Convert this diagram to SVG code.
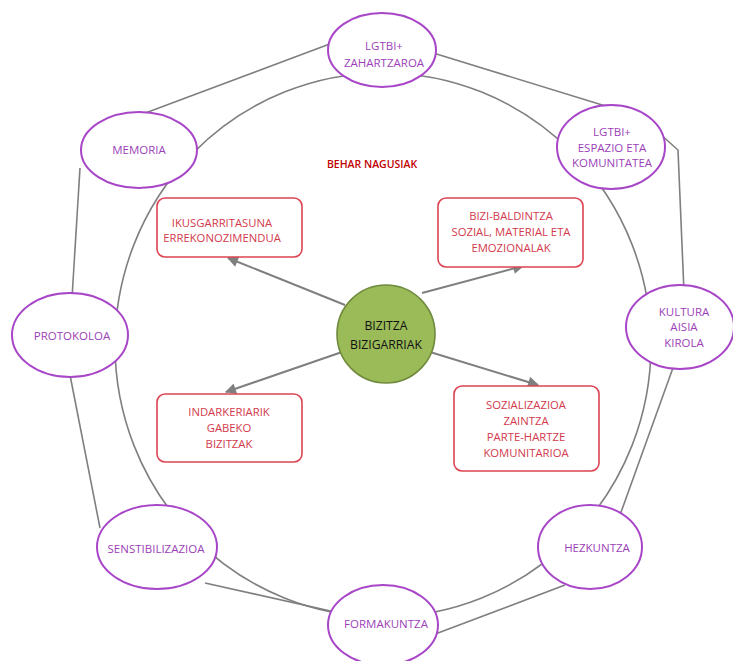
<svg xmlns="http://www.w3.org/2000/svg" width="733" height="661" viewBox="0 0 733 661">
<defs>
<marker id="ah" viewBox="0 0 10 10" refX="9" refY="5" markerWidth="12" markerHeight="11" markerUnits="userSpaceOnUse" orient="auto">
<path d="M0,0 L10,5 L0,10 z" fill="#7f7f7f"/>
</marker>
<style>
.ring{fill:none;stroke:#7f7f7f;stroke-width:1.6}
.edge{fill:none;stroke:#7f7f7f;stroke-width:1.6}
.arr{fill:none;stroke:#7f7f7f;stroke-width:2;marker-end:url(#ah)}
.ell{fill:#fff;stroke:#a846c8;stroke-width:2}
.et{font-family:"Open Sans","Noto Sans",sans-serif;font-size:11.5px;fill:#9c3fb8;text-anchor:middle}
.box{fill:#fff;stroke:#dc4452;stroke-width:1.6}
.bt{font-family:"Open Sans","Noto Sans",sans-serif;font-size:11.3px;fill:#d23a4c;text-anchor:middle}
.ct{font-family:"Open Sans","Noto Sans",sans-serif;font-size:12.2px;fill:#111;text-anchor:middle}
</style>
</defs>
<rect width="733" height="661" fill="#fff"/>
<g id="connectors">
<ellipse class="ring" cx="383" cy="345" rx="268" ry="272"/>
<line class="edge" x1="140" y1="115" x2="335" y2="42"/>
<line class="edge" x1="430" y1="52" x2="612" y2="108"/>
<polyline class="edge" points="650,125 678,150 684,292"/>
<line class="edge" x1="674" y1="365" x2="620" y2="515"/>
<line class="edge" x1="565" y1="585" x2="430" y2="636"/>
<line class="edge" x1="335" y1="612" x2="205" y2="583"/>
<line class="edge" x1="100" y1="528" x2="70" y2="375"/>
<line class="edge" x1="72" y1="298" x2="80" y2="168"/>
<line class="arr" x1="345" y1="305" x2="228" y2="258"/>
<line class="arr" x1="422" y1="293" x2="523" y2="266"/>
<line class="arr" x1="342" y1="352" x2="226" y2="392"/>
<line class="arr" x1="430" y1="352" x2="538" y2="385"/>
</g>
<g id="n_zahartzaroa"><ellipse class="ell" cx="382" cy="50" rx="54" ry="37"/><text class="et" x="384" y="50">LGTBI+</text><text class="et" x="384" y="67">ZAHARTZAROA</text></g>
<g id="n_memoria"><ellipse class="ell" cx="139" cy="150" rx="58" ry="38"/><text class="et" x="139" y="154">MEMORIA</text></g>
<g id="n_espazio"><ellipse class="ell" cx="611" cy="147" rx="54" ry="42"/><text class="et" x="612" y="136">LGTBI+</text><text class="et" x="612" y="152">ESPAZIO ETA</text><text class="et" x="612" y="167">KOMUNITATEA</text></g>
<g id="n_kultura"><ellipse class="ell" cx="680" cy="327" rx="54" ry="42"/><text class="et" x="684" y="316">KULTURA</text><text class="et" x="684" y="331">AISIA</text><text class="et" x="684" y="347">KIROLA</text></g>
<g id="n_protokoloa"><ellipse class="ell" cx="70" cy="335" rx="58" ry="42"/><text class="et" x="72" y="340">PROTOKOLOA</text></g>
<g id="n_sens"><ellipse class="ell" cx="157" cy="547" rx="60" ry="42"/><text class="et" x="156" y="553">SENSTIBILIZAZIOA</text></g>
<g id="n_formakuntza"><ellipse class="ell" cx="383" cy="625" rx="55" ry="40"/><text class="et" x="386" y="628">FORMAKUNTZA</text></g>
<g id="n_hezkuntza"><ellipse class="ell" cx="590" cy="547" rx="52" ry="42"/><text class="et" x="597" y="552">HEZKUNTZA</text></g>
<g id="n_behar"><text x="372" y="168" style="font-family:'Open Sans','Noto Sans',sans-serif;font-size:10.5px;font-weight:600;fill:#c00000;text-anchor:middle">BEHAR NAGUSIAK</text></g>
<g id="n_ikus"><rect class="box" x="157" y="198" width="145" height="59" rx="8"/><text class="bt" x="222" y="227">IKUSGARRITASUNA</text><text class="bt" x="222" y="242">ERREKONOZIMENDUA</text></g>
<g id="n_bizi"><rect class="box" x="438" y="198" width="145" height="69" rx="8"/><text class="bt" x="511" y="220">BIZI-BALDINTZA</text><text class="bt" x="511" y="236">SOZIAL, MATERIAL ETA</text><text class="bt" x="511" y="252">EMOZIONALAK</text></g>
<g id="n_indar"><rect class="box" x="157" y="394" width="145" height="68" rx="8"/><text class="bt" x="229" y="416">INDARKERIARIK</text><text class="bt" x="229" y="432">GABEKO</text><text class="bt" x="229" y="448">BIZITZAK</text></g>
<g id="n_sozial"><rect class="box" x="454" y="386" width="145" height="85" rx="8"/><text class="bt" x="526" y="409">SOZIALIZAZIOA</text><text class="bt" x="526" y="425">ZAINTZA</text><text class="bt" x="526" y="441">PARTE-HARTZE</text><text class="bt" x="526" y="457">KOMUNITARIOA</text></g>
<g id="n_center"><circle cx="386" cy="334" r="49" fill="#9bbb59" stroke="#6f8a3c" stroke-width="1.6"/><text class="ct" x="386" y="330">BIZITZA</text><text class="ct" x="386" y="349">BIZIGARRIAK</text></g>
</svg>
